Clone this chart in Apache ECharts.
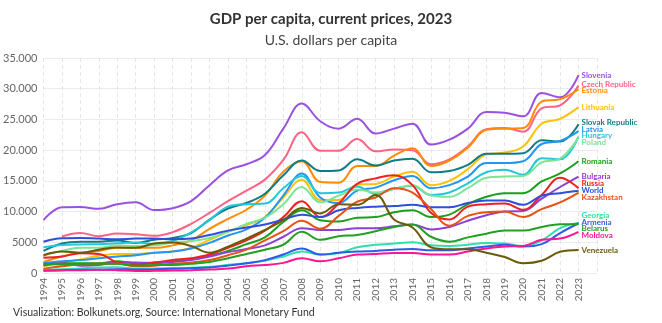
<!DOCTYPE html>
<html><head><meta charset="utf-8">
<script src="https://cdn.jsdelivr.net/npm/echarts@6/dist/echarts.min.js"></script>
<style>html,body{margin:0;padding:0;background:#fff}#c{width:662px;height:323px}</style>
</head><body><div id="c"></div>
<script>
const years = [1994,1995,1996,1997,1998,1999,2000,2001,2002,2003,2004,2005,2006,2007,2008,2009,2010,2011,2012,2013,2014,2015,2016,2017,2018,2019,2020,2021,2022,2023];
const yTicks = [0,5000,10000,15000,20000,25000,30000,35000];
const title = "GDP per capita, current prices, 2023";
const subtitle = "U.S. dollars per capita";
const footer = "Visualization: Bolkunets.org, Source: International Monetary Fund";

const slovenia   = [8600,10700,10750,10450,11200,11500,10250,10550,11700,14300,16700,17700,19200,23500,27600,24700,23500,25100,22700,23500,24300,20900,21700,23500,26200,26100,25500,29300,28600,32200];
const czech      = [null,5950,6500,6000,6450,6300,6050,6650,8000,9800,11700,13400,15200,18400,22900,19900,19900,21800,19800,20100,20000,17700,18500,20600,23400,23600,23000,26800,27300,30500];
const estonia    = [1800,2700,3300,3600,4100,4100,4100,4500,5300,7200,8800,10300,12600,16500,18200,14800,14700,17400,17400,19100,20300,17400,18300,20400,23300,23500,23600,27900,28300,29900];
const lithuania  = [1100,1650,2200,2800,3100,3100,3300,3500,4100,5400,6700,7800,9100,12300,15200,11900,11900,14400,14500,15700,16500,14300,15000,16900,19300,19600,20600,24300,25100,27000];
const slovak     = [3600,4800,5100,5100,5300,4900,5400,5700,6500,8700,10500,11400,12900,15900,18300,16600,16700,18500,17500,18300,18600,16400,16600,17600,19400,19400,19500,21600,21400,24200];
const latvia     = [1600,1900,2100,2400,2700,2900,3300,3500,4000,4900,6100,7100,9000,12600,16200,12300,11400,13400,13900,15100,15800,13800,14300,15700,17900,17900,18200,21000,21500,23100];
const hungary    = [4200,4550,4650,4700,4850,4950,4700,5200,6600,8600,10800,11200,11300,13800,15800,13000,13100,14100,12900,13700,14200,12700,13100,14600,16400,16800,16000,18700,18500,22200];
const poland     = [2800,3600,4100,4100,4500,4400,4500,4950,5200,5700,6700,8000,9000,11200,14000,11500,12600,13600,13100,13700,14300,12600,12400,13800,15500,15700,15800,18000,18600,22100];
const romania    = [1300,1600,1600,1600,1900,1600,1700,1900,2200,2800,3600,4700,5800,8300,10200,8600,8400,9000,9100,9900,10200,9100,9500,11200,12400,13000,13000,14900,16200,18200];
const bulgaria   = [1200,1600,1200,1300,1800,1700,1600,1800,2100,2700,3400,3900,4500,5900,7300,7000,7000,7300,7300,7600,7900,7100,7500,8500,9400,10000,10100,12100,14000,15700];
const russia     = [2500,2700,3200,3100,1700,1300,1700,2100,2400,3000,4100,5300,6900,9100,11700,9100,11300,14500,15400,15900,14300,9800,8700,10800,11200,11300,10300,12700,15500,13800];
const world      = [5100,5650,5700,5600,5500,5600,5600,5500,5600,6200,6900,7400,7900,8700,9500,9100,10200,10600,10800,10900,11100,10700,10700,11400,11800,11800,11100,12600,13000,13400];
const kazakhstan = [700,1100,1400,1500,1500,1100,1200,1500,1700,2100,2900,3800,5300,6800,8500,7200,9300,11600,12300,13800,13100,10400,7700,9300,9900,10000,9100,10400,11500,13100];
const georgia    = [500,600,750,900,950,700,750,800,850,1000,1300,1600,2000,2700,3500,3000,3250,4200,4600,4800,5000,4500,4400,4600,4900,4800,4400,5300,7300,8200];
const armenia    = [350,450,520,530,610,590,620,690,770,900,1200,1600,2100,3000,4000,3000,3300,3500,3600,3800,3900,3700,3700,4000,4300,4600,4300,4700,6500,8100];
const belarus    = [1500,1400,1500,1500,1500,1200,1300,1300,1500,1800,2400,3100,3800,4600,6700,5400,6000,6200,6800,7500,7900,5900,5100,5800,6400,6900,6900,7500,7950,7950];
const moldova    = [400,450,460,530,460,320,350,400,460,550,720,1100,1300,1650,2400,1900,2400,3000,3100,3250,3250,3000,3000,3500,4000,4300,4400,5400,5600,6700];
const venezuela  = [2900,3500,3300,3800,4150,4100,4800,4950,4400,3300,4300,5600,7000,8600,10600,9700,11200,11100,12700,8700,7400,4200,3850,3850,3300,2600,1600,2000,3450,3750];

const seriesNames = ["Slovenia","Czech Republic","Estonia","Lithuania","Slovak Republic","Latvia","Hungary","Poland","Romania","Bulgaria","Russia","World","Kazakhstan","Georgia","Armenia","Belarus","Moldova","Venezuela"];
const seriesData = [slovenia,czech,estonia,lithuania,slovak,latvia,hungary,poland,romania,bulgaria,russia,world,kazakhstan,georgia,armenia,belarus,moldova,venezuela];
const seriesColors = ["#9b51e0","#ff6384","#ff8c00","#ffc107","#0e7c86","#2196f3","#26c6da","#7be495","#1aa01a","#8e3fd6","#f02020","#2f4fd8","#e65314","#2de0a8","#2f5bea","#22a022","#ff1493","#6b5a0a"];

const FONT = "Lato";
const LABEL_GAP = 6.7;
function fmt(v){ if(v>=10000){ return String(v).replace(/\B(?=(\d{3})+(?!\d))/g,"."); } return String(v); }

function buildSeries(offsets){
  return seriesNames.map(function(n,i){
    return {
      name:n, type:'line', smooth:0.4, showSymbol:false, symbol:'none',
      data: years.map(function(y,j){ return [y, seriesData[i][j]]; }).filter(function(p){return p[1]!==null;}),
      lineStyle:{width:2, color:seriesColors[i]},
      itemStyle:{color:seriesColors[i]},
      endLabel:{show:true, formatter:n, color:seriesColors[i], fontWeight:'bold', fontSize:8, fontFamily:FONT, distance:3,
        offset:[0, offsets ? offsets[i] : 0]},
      emphasis:{disabled:true}
    };
  });
}

const chart = echarts.init(document.getElementById('c'), null, {renderer:'canvas'});
chart.setOption({
  animation:false,
  backgroundColor:'#fff',
  textStyle:{fontFamily:FONT},
  title:[
    {text:title, left:'center', top:7, textStyle:{fontFamily:FONT, fontSize:15, fontWeight:'bold', color:'#333'}},
    {text:subtitle, left:'center', top:28, textStyle:{fontFamily:FONT, fontSize:14, fontWeight:'normal', color:'#444'}},
    {text:footer, left:8, top:302, textStyle:{fontFamily:FONT, fontSize:10.5, fontWeight:'normal', color:'#333'}}
  ],
  grid:{left:37, right:65, top:58, bottom:50, containLabel:false},
  xAxis:{
    type:'value', min:1994, max:2024, interval:1,
    axisLine:{show:false}, axisTick:{show:false},
    axisLabel:{rotate:90, fontSize:10, color:'#666', fontFamily:FONT, margin:5,
      formatter:function(v){ return years.indexOf(v)>=0 ? String(v) : ''; }},
    splitLine:{show:true, lineStyle:{color:'#e6e6e6', type:[4,3], width:1}}
  },
  yAxis:{
    type:'value', min:yTicks[0], max:yTicks[yTicks.length-1], interval:5000,
    axisLine:{show:false}, axisTick:{show:false},
    axisLabel:{fontSize:11, color:'#666', fontFamily:FONT, margin:6, formatter:fmt},
    splitLine:{show:true, lineStyle:{color:'#ebebeb', width:1}}
  },
  series: buildSeries(null)
});

// de-overlap end labels: cluster-centred stacking with a fixed gap
(function(){
  const last = years[years.length-1];
  const items = seriesNames.map(function(n,i){
    const v = seriesData[i][seriesData[i].length-1];
    return {i:i, y: chart.convertToPixel({gridIndex:0},[last, v])[1]};
  }).sort(function(a,b){return a.y-b.y;});
  const top = function(gr){ const m = gr.members.reduce(function(s,x){return s+x.y;},0)/gr.members.length; return m-(gr.members.length-1)*LABEL_GAP/2; };
  let groups = [];
  items.forEach(function(it){
    groups.push({members:[it]});
    let merged = true;
    while(merged && groups.length>1){
      merged = false;
      const g = groups[groups.length-1], p = groups[groups.length-2];
      if(top(p) + p.members.length*LABEL_GAP > top(g)){
        p.members = p.members.concat(g.members); groups.pop(); merged = true;
      }
    }
  });
  const offsets = new Array(seriesNames.length).fill(0);
  groups.forEach(function(gr){
    const t = top(gr);
    gr.members.forEach(function(it,k){ offsets[it.i] = t + k*LABEL_GAP - it.y; });
  });
  chart.setOption({series: buildSeries(offsets)});
})();
</script></body></html>
